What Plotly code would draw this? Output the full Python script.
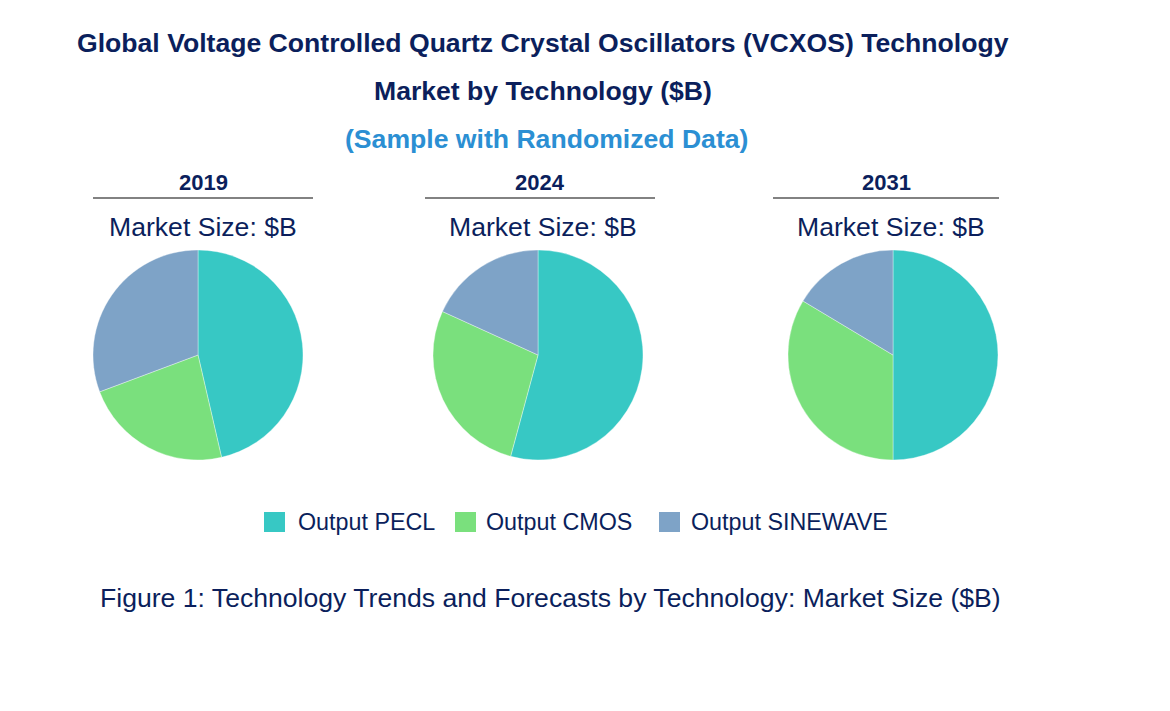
import plotly.graph_objects as go

W, H = 1170, 711
labels = ["Output PECL", "Output CMOS", "Output SINEWAVE"]
colors = ["#37C8C4", "#7AE07D", "#7EA3C7"]
years = ["2019", "2024", "2031"]
values = {
    "2019": [46.4, 22.9, 30.7],
    "2024": [54.2, 27.6, 18.2],
    "2031": [50.0, 33.6, 16.4],
}
pie_cx = [198, 538, 893]
year_cx = [203, 540, 886]
line_x = [(93, 313), (425, 655), (773, 999)]
ms_cx = [203, 543, 891]
leg_sq_x = [264, 455, 659]
leg_txt_x = [296, 484, 689]

NAVY = "#0B1F5C"
FONT = "Liberation Sans, Arial, sans-serif"

fig = go.Figure()
R = 105
cy = 355
for i, y in enumerate(years):
    cx = pie_cx[i]
    fig.add_trace(go.Pie(
        labels=labels, values=values[y], sort=False, direction="clockwise",
        rotation=0, textinfo="none", hoverinfo="label+value",
        marker=dict(colors=colors, line=dict(color="rgba(255,255,255,0.6)", width=0.6)),
        domain=dict(x=[(cx - R) / W, (cx + R) / W], y=[(H - cy - R) / H, (H - cy + R) / H]),
        showlegend=False,
    ))

def px(x):
    return x / W

def py(y):
    return 1 - y / H

ann = []
ann.append(dict(text="<b>Global Voltage Controlled Quartz Crystal Oscillators (VCXOS) Technology</b>",
                x=px(543), y=py(43), font=dict(size=26.6, color=NAVY)))
ann.append(dict(text="<b>Market by Technology ($B)</b>", x=px(543), y=py(91), font=dict(size=26.6, color=NAVY)))
ann.append(dict(text="<b>(Sample with Randomized Data)</b>", x=px(546), y=py(139), font=dict(size=26.6, color="#2B8FD3")))
for i, y in enumerate(years):
    ann.append(dict(text="<b>" + y + "</b>", x=px(year_cx[i]), y=py(182), font=dict(size=22, color=NAVY)))
    ann.append(dict(text="Market Size: $B", x=px(ms_cx[i]), y=py(227), font=dict(size=26.6, color=NAVY)))
ann.append(dict(text="Figure 1: Technology Trends and Forecasts by Technology: Market Size ($B)",
                x=px(98), y=py(598), xanchor="left", font=dict(size=26.6, color=NAVY)))
for i, lab in enumerate(labels):
    ann.append(dict(text=lab, x=px(leg_txt_x[i]), y=py(522), xanchor="left", font=dict(size=23.3, color=NAVY)))
for a in ann:
    a.update(xref="paper", yref="paper", showarrow=False, font_family=FONT)
    a.setdefault("xanchor", "center")
    a["yanchor"] = "middle"

shapes = []
for (x0, x1) in line_x:
    shapes.append(dict(type="line", xref="paper", yref="paper", x0=px(x0), x1=px(x1),
                       y0=py(198), y1=py(198), line=dict(color="#595959", width=1.3)))
for i, c in enumerate(colors):
    shapes.append(dict(type="rect", xref="paper", yref="paper", x0=px(leg_sq_x[i]), x1=px(leg_sq_x[i] + 21),
                       y0=py(532), y1=py(512), fillcolor=c, line=dict(width=0)))

fig.update_layout(
    width=W, height=H, margin=dict(l=0, r=0, t=0, b=0),
    paper_bgcolor="white", plot_bgcolor="white",
    font=dict(family=FONT, color=NAVY),
    annotations=ann, shapes=shapes, showlegend=False,
)
fig.write_html("out.html")
